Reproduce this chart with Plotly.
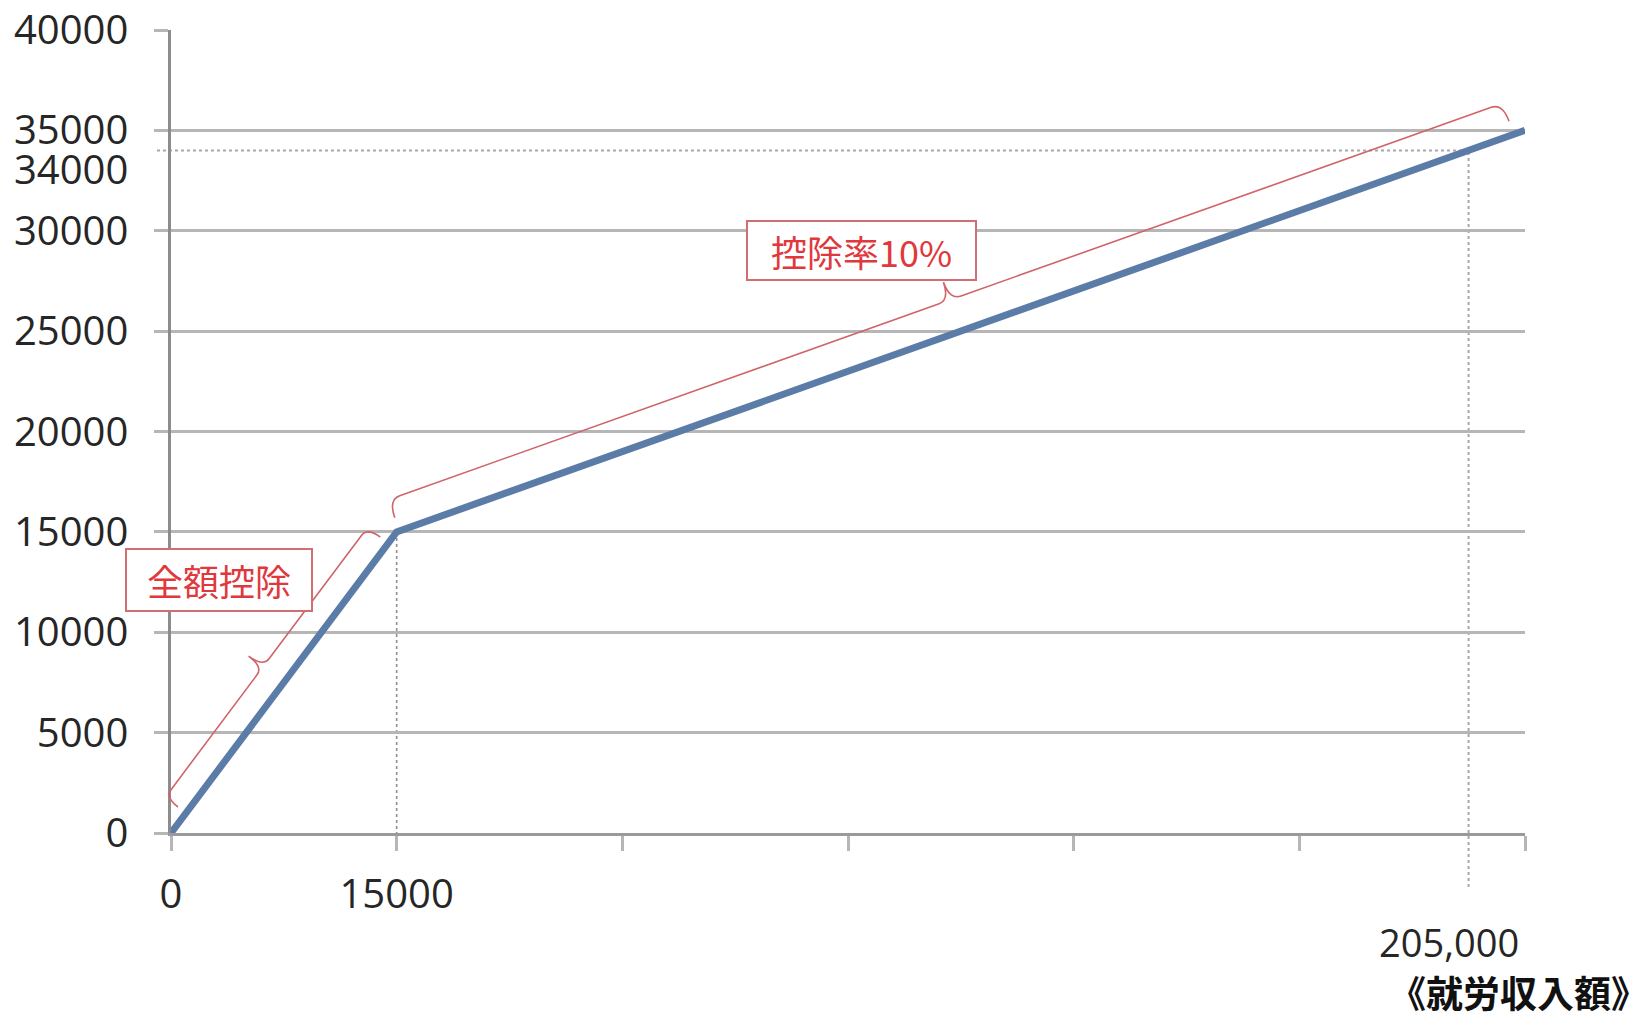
import numpy as np
import plotly.graph_objects as go

# Earned-income deduction: full deduction up to 15,000, then 10% of the excess.
# The horizontal axis is schematic: breakpoints sit on evenly spaced steps.
x_steps = [0, 1, 6]                  # schematic axis steps of the breakpoints
deduction = [0, 15000, 35000]        # deduction amount at each breakpoint
x_tick_steps = [0, 1, 2, 3, 4, 5, 6]
x_tick_text = ["0", "15000", "", "", "", "", ""]
y_ticks = [0, 5000, 10000, 15000, 20000, 25000, 30000, 35000, 40000]
marked_income_label = "205,000"
marked_deduction = 34000
label_full = "全額控除"
label_rate = "控除率10%"
x_title = "《就労収入額》"

# Figure geometry
FIG_W, FIG_H = 1650, 1020
ML, MR, MT, MB = 171, 125, 30, 187
PW, PH = FIG_W - ML - MR, FIG_H - MT - MB
X_MAX, Y_MAX = 6, 40000

GRID = "#b6b6b6"
AXIS = "#8c8c8c"
BLUE = "#5c7ca8"
RED_LINE = "#d0646a"
RED_TEXT = "#e0383c"
TEXT = "#262626"
NUM_FONT = "Open Sans"
CJK_FONT = "Noto Sans CJK JP"


def to_px(x, y):
    return ML + x / X_MAX * PW, MT + PH - y / Y_MAX * PH


def to_paper(px, py):
    return (px - ML) / PW, (MT + PH - py) / PH


def brace_path(x0, y0, x1, y1, s0, s1, hook, arm, tip, r=10):
    """Curly brace alongside the segment (x0,y0)-(x1,y1), opening toward it."""
    p0 = np.array(to_px(x0, y0))
    p1 = np.array(to_px(x1, y1))
    d = p1 - p0
    length = np.hypot(*d)
    u = d / length
    n = np.array([u[1], -u[0]])
    m = p0 + u * length / 2
    pts = [
        p0 + u * s0 + n * hook,
        p0 + u * s0 + n * arm,
        p0 + u * (s0 + r) + n * arm,
        m - u * r + n * arm,
        m + n * arm,
        m + n * tip,
        m + n * arm,
        m + u * r + n * arm,
        p1 - u * (s1 + r) + n * arm,
        p1 - u * s1 + n * arm,
        p1 - u * s1 + n * hook,
    ]
    f = [("%.5f,%.5f" % to_paper(*p)) for p in pts]
    return (f"M{f[0]} Q{f[1]} {f[2]} L{f[3]} Q{f[4]} {f[5]} "
            f"Q{f[6]} {f[7]} L{f[8]} Q{f[9]} {f[10]}")


fig = go.Figure()

fig.add_trace(go.Scatter(
    x=x_steps, y=deduction, mode="lines",
    line=dict(color=BLUE, width=7),
    hoverinfo="skip", showlegend=False,
))

# Reference lines for the marked point on the 10% segment
mark_x = float(np.interp(marked_deduction, deduction, x_steps))
below_axis = to_paper(0, MT + PH + 54)[1]
tick_below = to_paper(0, MT + PH + 14)[1]

fig.add_shape(type="line", xref="x", yref="paper",
              x0=x_steps[1], x1=x_steps[1],
              y0=tick_below, y1=deduction[1] / Y_MAX,
              line=dict(color="#8f8f8f", width=1.6, dash="dot"), layer="between")
fig.add_shape(type="line", xref="x", yref="paper",
              x0=mark_x, x1=mark_x,
              y0=below_axis, y1=marked_deduction / Y_MAX,
              line=dict(color="#a8a8a8", width=2, dash="dot"), layer="between")
fig.add_shape(type="line", xref="paper", yref="y",
              x0=-14 / PW, x1=mark_x / X_MAX,
              y0=marked_deduction, y1=marked_deduction,
              line=dict(color="#a8a8a8", width=2, dash="dot"), layer="between")

# Braces over the two segments
fig.add_shape(type="path", xref="paper", yref="paper",
              path=brace_path(x_steps[0], deduction[0], x_steps[1], deduction[1],
                              s0=25, s1=14, hook=10, arm=26, tip=44, r=10),
              line=dict(color=RED_LINE, width=1.6), layer="above")
fig.add_shape(type="path", xref="paper", yref="paper",
              path=brace_path(x_steps[1], deduction[1], x_steps[2], deduction[2],
                              s0=3, s1=12, hook=14, arm=33, tip=52, r=12),
              line=dict(color=RED_LINE, width=1.6), layer="above")


def boxed_label(text, cx, cy, w, h):
    px, py = to_paper(cx, cy)
    pad, bw = 6, 2
    fig.add_annotation(
        xref="paper", yref="paper", x=px, y=py,
        xanchor="center", yanchor="middle",
        text=text, showarrow=False,
        font=dict(family=CJK_FONT, size=36, color=RED_TEXT),
        bgcolor="white", bordercolor="#cf6f72", borderwidth=bw, borderpad=pad,
        width=w - 2 * (pad + bw), height=h - 2 * (pad + bw),
    )


boxed_label(label_full, 219, 580, 188, 64)
boxed_label(label_rate, 862, 250, 231, 61)

# Tick label for the marked deduction
fig.add_annotation(
    xref="paper", yref="y", x=0, y=marked_deduction,
    xanchor="right", yanchor="middle", xshift=-41, yshift=-18,
    text=str(marked_deduction), showarrow=False,
    font=dict(family=NUM_FONT, size=40, color=TEXT),
)
# Income label for the marked point
fig.add_annotation(
    xref="x", yref="paper", x=mark_x, y=to_paper(0, 942)[1],
    xanchor="center", yanchor="middle", xshift=-20,
    text=marked_income_label, showarrow=False,
    font=dict(family=NUM_FONT, size=38, color=TEXT),
)
# Axis title
tx, ty = to_paper(1650, 992)
fig.add_annotation(
    xref="paper", yref="paper", x=tx, y=ty,
    xanchor="right", yanchor="middle",
    text="<b>" + x_title + "</b>", showarrow=False,
    font=dict(family=CJK_FONT, size=37, color="#111111"),
)

fig.update_xaxes(
    range=[0, X_MAX], tickmode="array",
    tickvals=x_tick_steps, ticktext=x_tick_text,
    showgrid=False, zeroline=False, automargin=False,
    showline=True, linecolor="#9a9a9a", linewidth=2.5,
    ticks="outside", ticklen=15, tickwidth=2.5, tickcolor=GRID,
    ticklabelstandoff=9,
    tickfont=dict(family=NUM_FONT, size=40, color=TEXT),
)
fig.update_yaxes(
    range=[0, Y_MAX], tickmode="array", tickvals=y_ticks,
    ticktext=[str(v) for v in y_ticks],
    showgrid=True, gridcolor=GRID, gridwidth=2.5, zeroline=False, automargin=False,
    showline=True, linecolor=AXIS, linewidth=2.5,
    ticks="outside", ticklen=14, tickwidth=2.5, tickcolor=GRID,
    ticklabelstandoff=18,
    tickfont=dict(family=NUM_FONT, size=40, color=TEXT),
)

fig.update_layout(
    width=FIG_W, height=FIG_H,
    margin=dict(l=ML, r=MR, t=MT, b=MB, pad=0, autoexpand=False),
    plot_bgcolor="white", paper_bgcolor="white",
    showlegend=False,
)

fig.write_html("out.html")
